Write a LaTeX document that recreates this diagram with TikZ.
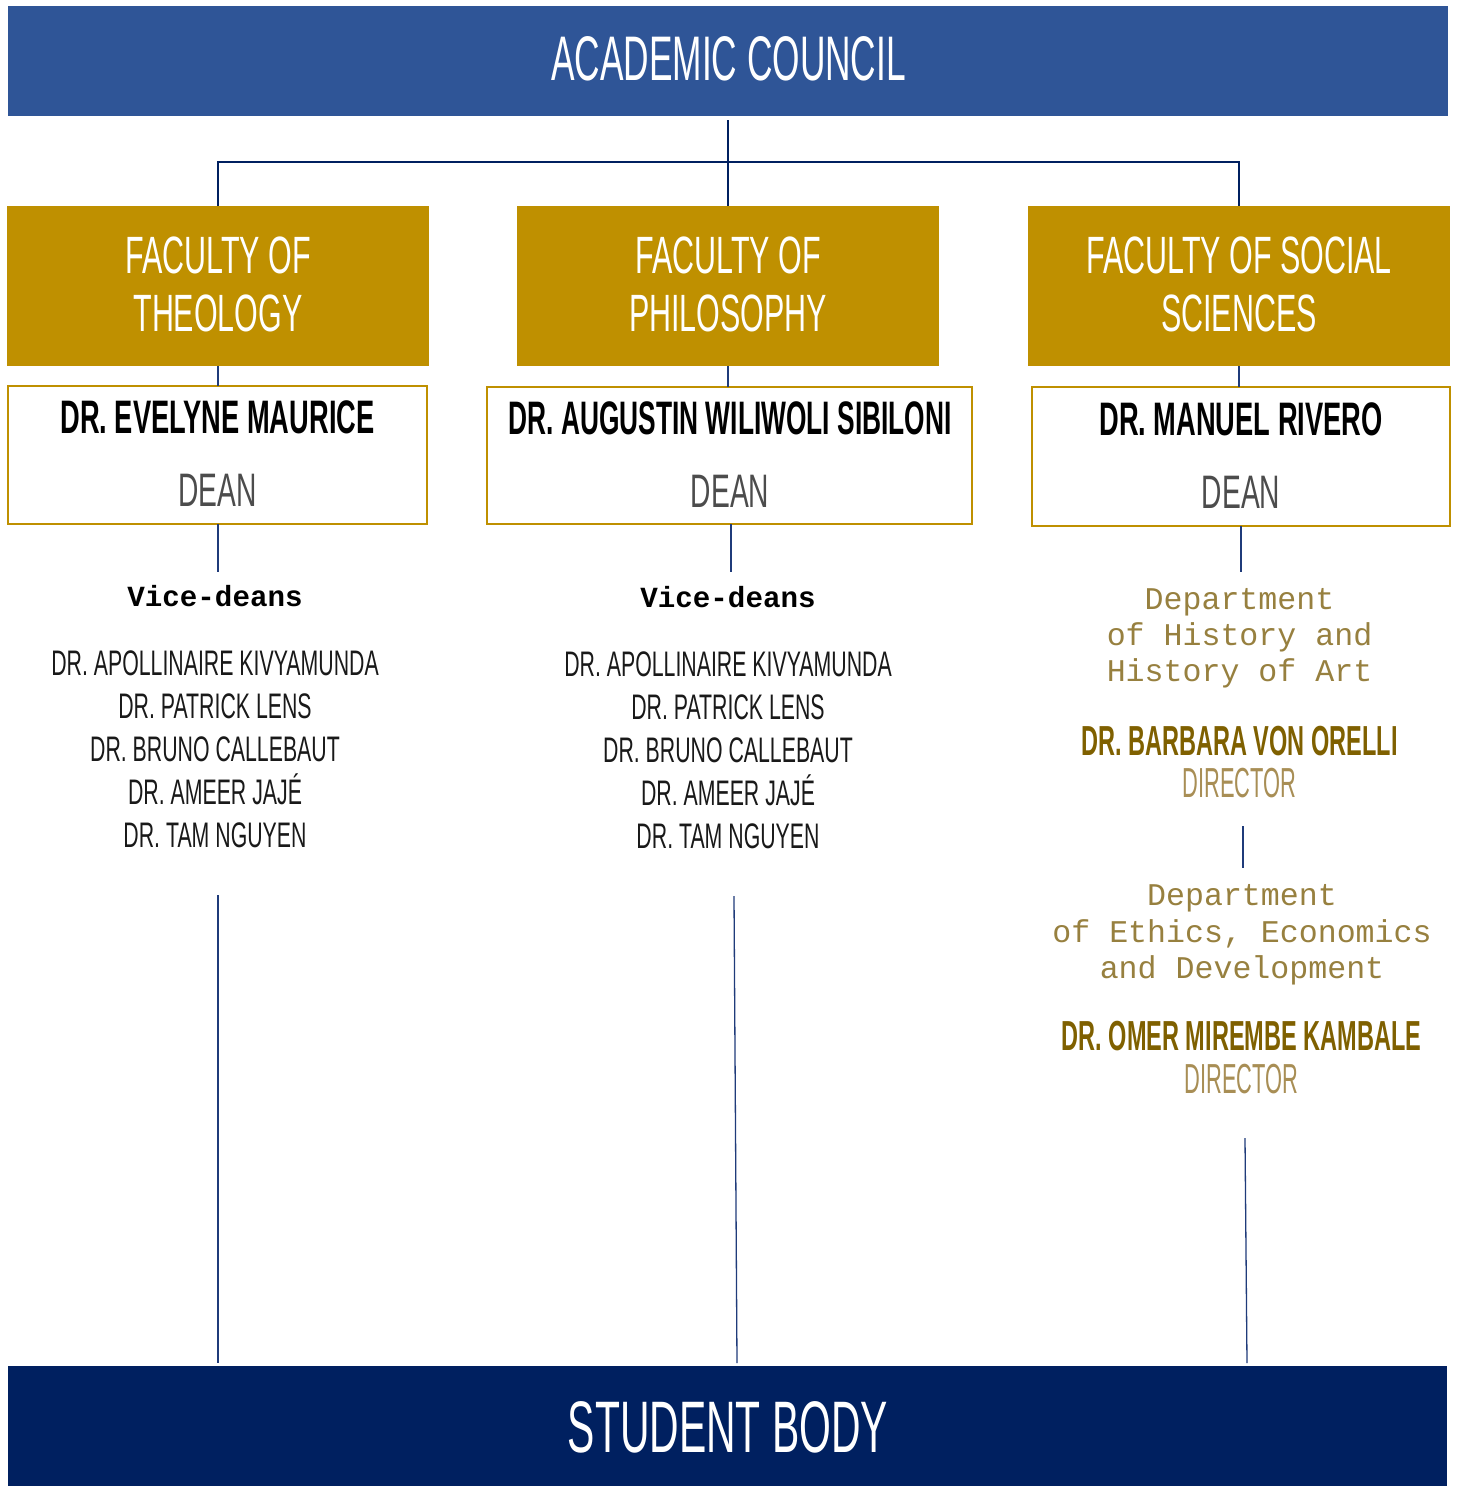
\documentclass[tikz,border=0pt]{standalone}
\usepackage{fontspec}
\setmainfont{Liberation Sans}
\newfontfamily\condfont[FakeStretch=0.56]{Liberation Sans}
\newfontfamily\condwide[FakeStretch=0.58]{Liberation Sans}
\newfontfamily\condlite[FakeStretch=0.60]{Liberation Sans}
\newfontfamily\condnarrow[FakeStretch=0.52]{Liberation Sans}
\newfontfamily\courfont{Liberation Mono}
\definecolor{councilblue}{HTML}{2F5597}
\definecolor{navy}{HTML}{002060}
\definecolor{gold}{HTML}{BF9000}
\definecolor{darkgold}{HTML}{7F6000}
\definecolor{litegold}{HTML}{A88E55}
\definecolor{monogold}{HTML}{97803F}
\definecolor{linecol}{HTML}{1F3B7A}
\tikzset{
  bar/.style={inner sep=0pt, outer sep=0pt},
  facbox/.style={fill=gold, minimum width=422pt, minimum height=160pt, inner sep=0pt, outer sep=0pt},
  deanbox/.style={draw=gold, line width=2.3pt, fill=white, inner sep=0pt, outer sep=0pt},
  txt/.style={anchor=base, inner sep=0pt, outer sep=0pt},
  factxt/.style={txt, text=white, font=\condwide\fontsize{52.5}{52.5}\selectfont},
  nametxt/.style={txt, text=black, font=\condwide\bfseries\fontsize{47}{47}\selectfont},
  roletxt/.style={txt, text=black!70, font=\condlite\fontsize{47}{47}\selectfont},
  vdhead/.style={txt, text=black, font=\courfont\bfseries\fontsize{29.2}{29.2}\selectfont},
  vdname/.style={txt, text=black!90, font=\condlite\fontsize{35.5}{35.5}\selectfont},
  depttxt/.style={txt, text=monogold, font=\courfont\fontsize{31.6}{31.6}\selectfont},
  dirname/.style={txt, text=darkgold, font=\condfont\bfseries\fontsize{42}{42}\selectfont},
  dirrole/.style={txt, text=litegold, font=\condnarrow\fontsize{42}{42}\selectfont},
  connthick/.style={draw=navy, line width=2pt},
  conn/.style={draw=linecol, line width=1.3pt}
}
\begin{document}
\begin{tikzpicture}[x=1pt,y=-1pt]
\useasboundingbox (0,0) rectangle (1458,1486);

% top and bottom bars
\node[bar, fill=councilblue, minimum width=1440pt, minimum height=110pt] (council) at (728,61) {};
\node[txt, text=white, font=\condfont\fontsize{63}{63}\selectfont] (councilT) at (728.5,80) {ACADEMIC COUNCIL};
\node[bar, fill=navy, minimum width=1439pt, minimum height=120pt] (student) at (727.5,1426) {};
\node[txt, text=white, font=\condfont\fontsize{73}{73}\selectfont] (studentT) at (728,1452) {STUDENT BODY};

% faculties
\node[facbox] (fac1) at (218,286) {};
\node[facbox] (fac2) at (728,286) {};
\node[facbox] (fac3) at (1239,286) {};
\node[factxt] (fac1a) at (218,273) {FACULTY OF};
\node[factxt] (fac1b) at (218,331) {THEOLOGY};
\node[factxt] (fac2a) at (728,273) {FACULTY OF};
\node[factxt] (fac2b) at (728,331) {PHILOSOPHY};
\node[factxt] (fac3a) at (1239,273) {FACULTY OF SOCIAL};
\node[factxt] (fac3b) at (1239,331) {SCIENCES};

% deans
\node[deanbox, minimum width=419pt, minimum height=138pt] (dean1) at (217.5,455) {};
\node[deanbox, minimum width=485pt, minimum height=137pt] (dean2) at (729.5,455.5) {};
\node[deanbox, minimum width=418pt, minimum height=139pt] (dean3) at (1241,456.5) {};
\node[nametxt] (name1) at (217.5,433) {DR. EVELYNE MAURICE};
\node[roletxt] (role1) at (217.5,506) {DEAN};
\node[nametxt, font=\condfont\bfseries\fontsize{47}{47}\selectfont] (name2) at (730,434) {DR. AUGUSTIN WILIWOLI SIBILONI};
\node[roletxt] (role2) at (730,507) {DEAN};
\node[nametxt] (name3) at (1241,435) {DR. MANUEL RIVERO};
\node[roletxt] (role3) at (1241,508) {DEAN};

% connectors top
\coordinate (hub) at (728,162);
\draw[connthick] ([yshift=-4pt]council.south) -- (hub);
\draw[connthick] (fac1.north) |- (hub) -| (fac3.north);
\draw[connthick] (hub) -- (fac2.north);
\draw[conn] (fac1.south) -- (fac1.south |- dean1.north);
\draw[conn] (fac2.south) -- (fac2.south |- dean2.north);
\draw[conn] (fac3.south) -- (fac3.south |- dean3.north);

% left column
\coordinate (l1a) at (218,572);
\draw[conn] (l1a |- dean1.south) -- (l1a);
\node[vdhead] (vd1) at (215,606) {Vice-deans};
\foreach \n [count=\i] in {DR. APOLLINAIRE KIVYAMUNDA, DR. PATRICK LENS, DR. BRUNO CALLEBAUT, DR. AMEER JAJÉ, DR. TAM NGUYEN}
  \node[vdname] (vdA\i) at (215,{632+43*\i}) {\n};
\coordinate (l1b) at (218,895);
\coordinate (l1c) at (218,1363);
\draw[conn] (l1b) -- (l1c);

% middle column
\coordinate (m1a) at (731,572);
\draw[conn] (m1a |- dean2.south) -- (m1a);
\node[vdhead] (vd2) at (728,607) {Vice-deans};
\foreach \n [count=\i] in {DR. APOLLINAIRE KIVYAMUNDA, DR. PATRICK LENS, DR. BRUNO CALLEBAUT, DR. AMEER JAJÉ, DR. TAM NGUYEN}
  \node[vdname] (vdB\i) at (728,{633+43*\i}) {\n};
\coordinate (m1b) at (734,896);
\coordinate (m1c) at (737,1363);
\draw[conn] (m1b) -- (m1c);

% right column
\coordinate (r1a) at (1241,572);
\draw[conn] (r1a |- dean3.south) -- (r1a);
\node[depttxt] (dA1) at (1239.5,609) {Department};
\node[depttxt] (dA2) at (1239.5,645) {of History and};
\node[depttxt] (dA3) at (1239.5,681) {History of Art};
\node[dirname] (dirA) at (1239.5,755) {DR. BARBARA VON ORELLI};
\node[dirrole] (dirAr) at (1239.5,797) {DIRECTOR};
\coordinate (r2a) at (1243,826);
\coordinate (r2b) at (1243,868);
\draw[conn] (r2a) -- (r2b);
\node[depttxt] (dB1) at (1242,905) {Department};
\node[depttxt] (dB2) at (1242,942) {of Ethics, Economics};
\node[depttxt] (dB3) at (1242,978) {and Development};
\node[dirname] (dirB) at (1241.5,1050) {DR. OMER MIREMBE KAMBALE};
\node[dirrole] (dirBr) at (1241.5,1093) {DIRECTOR};
\coordinate (r3a) at (1245,1138);
\coordinate (r3b) at (1247,1363);
\draw[conn] (r3a) -- (r3b);
\end{tikzpicture}
\end{document}
